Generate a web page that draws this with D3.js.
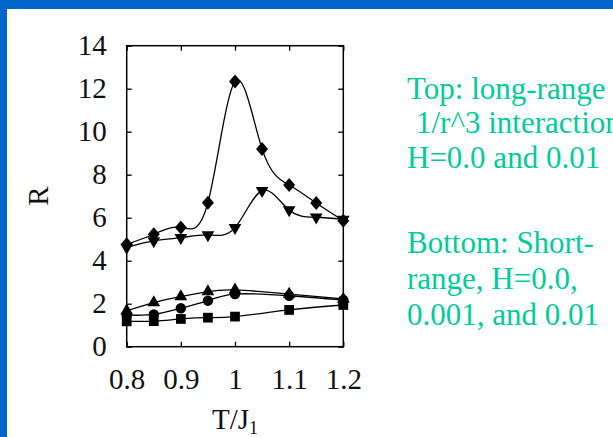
<!DOCTYPE html>
<html>
<head>
<meta charset="utf-8">
<script src="https://cdn.jsdelivr.net/npm/d3@7"></script>
<style>
  body { margin: 0; background: #fff; }
  svg { display: block; }
  text { font-family: "Liberation Serif", "Times New Roman", serif; }
</style>
</head>
<body>
<script>
// DATA -- LONG-RANGE 1/r^3 (TOP CURVES)
var longTemps = [0.8, 0.85, 0.9, 0.95, 1.0, 1.05, 1.1, 1.15, 1.2];
var longH0 = [4.76, 5.23, 5.55, 6.70, 12.33, 9.20, 7.52, 6.68, 5.86];
var longH001 = [4.62, 4.92, 5.07, 5.20, 5.54, 7.26, 6.36, 6.02, 5.92];

// DATA -- SHORT-RANGE (BOTTOM CURVES)
var shortTemps = [0.8, 0.85, 0.9, 0.95, 1.0, 1.1, 1.2];
var shortTri = [1.67, 2.05, 2.33, 2.56, 2.64, 2.45, 2.22];
var shortCirc = [1.47, 1.50, 1.79, 2.14, 2.45, 2.37, 2.17];
var shortSq = [1.18, 1.19, 1.29, 1.35, 1.40, 1.71, 1.94];

// TICKS
var xTicks = [0.8, 0.9, 1.0, 1.1, 1.2];
var xTickLabels = ['0.8', '0.9', '1', '1.1', '1.2'];
var yTicks = [0, 2, 4, 6, 8, 10, 12, 14];

// NOTE TEXT
var notes = [
  'Top: long-range',
  '1/r^3 interaction',
  'H=0.0 and 0.01',
  'Bottom: Short-',
  'range, H=0.0,',
  '0.001, and 0.01'
];

var W = 613, H = 437;
var plot = { left: 126.7, right: 343.3, top: 45.7, bottom: 346.7 };

var svg = d3.select('body').append('svg')
  .attr('width', W)
  .attr('height', H);

// SLIDE BACKGROUND
svg.append('rect').attr('width', W).attr('height', H).attr('fill', '#fff');
svg.append('rect').attr('width', W).attr('height', 9).attr('fill', '#0066cc');
svg.append('rect').attr('width', 7).attr('height', H).attr('fill', '#0066cc');

// SCALES
var x = d3.scaleLinear().domain([0.8, 1.2]).range([plot.left, plot.right]);
var y = d3.scaleLinear().domain([0, 14]).range([plot.bottom, plot.top]);

// AXES (TICKS INSIDE, MIRRORED)
var gx = svg.append('g')
  .attr('transform', 'translate(0,' + plot.bottom + ')')
  .call(d3.axisBottom(x).tickValues(xTicks).tickSize(-5).tickPadding(22)
    .tickFormat(function(d, i) { return xTickLabels[i]; }));
var gxt = svg.append('g')
  .attr('transform', 'translate(0,' + plot.top + ')')
  .call(d3.axisTop(x).tickValues(xTicks).tickSize(-5).tickFormat(''));
var gy = svg.append('g')
  .attr('transform', 'translate(' + plot.left + ',0)')
  .call(d3.axisLeft(y).tickValues(yTicks).tickSize(-5).tickPadding(20));
var gyr = svg.append('g')
  .attr('transform', 'translate(' + plot.right + ',0)')
  .call(d3.axisRight(y).tickValues(yTicks).tickSize(-5).tickFormat(''));

[gx, gxt, gy, gyr].forEach(function(g) {
  g.select('.domain').remove();
  g.selectAll('line').attr('stroke', '#000').attr('stroke-width', 1.3);
  g.selectAll('text')
    .attr('font-family', '"Liberation Serif", serif')
    .attr('font-size', 29)
    .attr('fill', '#111');
});

// FRAME
svg.append('rect')
  .attr('x', plot.left).attr('y', plot.top)
  .attr('width', plot.right - plot.left)
  .attr('height', plot.bottom - plot.top)
  .attr('fill', 'none')
  .attr('stroke', '#000')
  .attr('stroke-width', 1.5);

// AXIS TITLES
var xt = svg.append('text')
  .attr('x', 235).attr('y', 429)
  .attr('text-anchor', 'middle')
  .attr('font-size', 29)
  .attr('fill', '#111')
  .text('T/J');
xt.append('tspan').attr('font-size', 18).attr('dy', 5).text('1');

svg.append('text')
  .attr('transform', 'translate(48,196) rotate(-90)')
  .attr('text-anchor', 'middle')
  .attr('font-size', 29)
  .attr('fill', '#111')
  .text('R');

// CUSTOM DIAMOND SYMBOL
var diamond = {
  draw: function(ctx, size) {
    var w = Math.sqrt(size) * 0.6, h = Math.sqrt(size) * 0.7;
    ctx.moveTo(0, -h); ctx.lineTo(w, 0); ctx.lineTo(0, h); ctx.lineTo(-w, 0); ctx.closePath();
  }
};

// SERIES
var series = [
  { t: longTemps, v: longH0, sym: diamond, size: 100, rot: 0 },
  { t: longTemps, v: longH001, sym: d3.symbolTriangle, size: 70, rot: 180 },
  { t: shortTemps, v: shortTri, sym: d3.symbolTriangle, size: 70, rot: 0 },
  { t: shortTemps, v: shortCirc, sym: d3.symbolCircle, size: 85, rot: 0 },
  { t: shortTemps, v: shortSq, sym: d3.symbolSquare, size: 95, rot: 0 }
];

var line = d3.line()
  .x(function(d) { return x(d[0]); })
  .y(function(d) { return y(d[1]); })
  .curve(d3.curveNatural);

series.forEach(function(s) {
  var pts = s.t.map(function(t, i) { return [t, s.v[i]]; });
  svg.append('path')
    .attr('d', line(pts))
    .attr('fill', 'none')
    .attr('stroke', '#000')
    .attr('stroke-width', 1.3);
  svg.selectAll(null).data(pts).enter().append('path')
    .attr('d', d3.symbol().type(s.sym).size(s.size))
    .attr('transform', function(d) {
      return 'translate(' + x(d[0]) + ',' + y(d[1]) + ') rotate(' + s.rot + ')';
    })
    .attr('fill', '#000');
});

// NOTES ON THE RIGHT
var noteX = [407, 416, 407, 407, 407, 407];
var noteY = [98.5, 133, 167.5, 253, 289, 325];
svg.selectAll('text.note').data(notes).enter().append('text')
  .attr('class', 'note')
  .attr('x', function(d, i) { return noteX[i]; })
  .attr('y', function(d, i) { return noteY[i]; })
  .attr('font-size', 31)
  .attr('fill', '#00cc99')
  .text(function(d) { return d; });
</script>
</body>
</html>
